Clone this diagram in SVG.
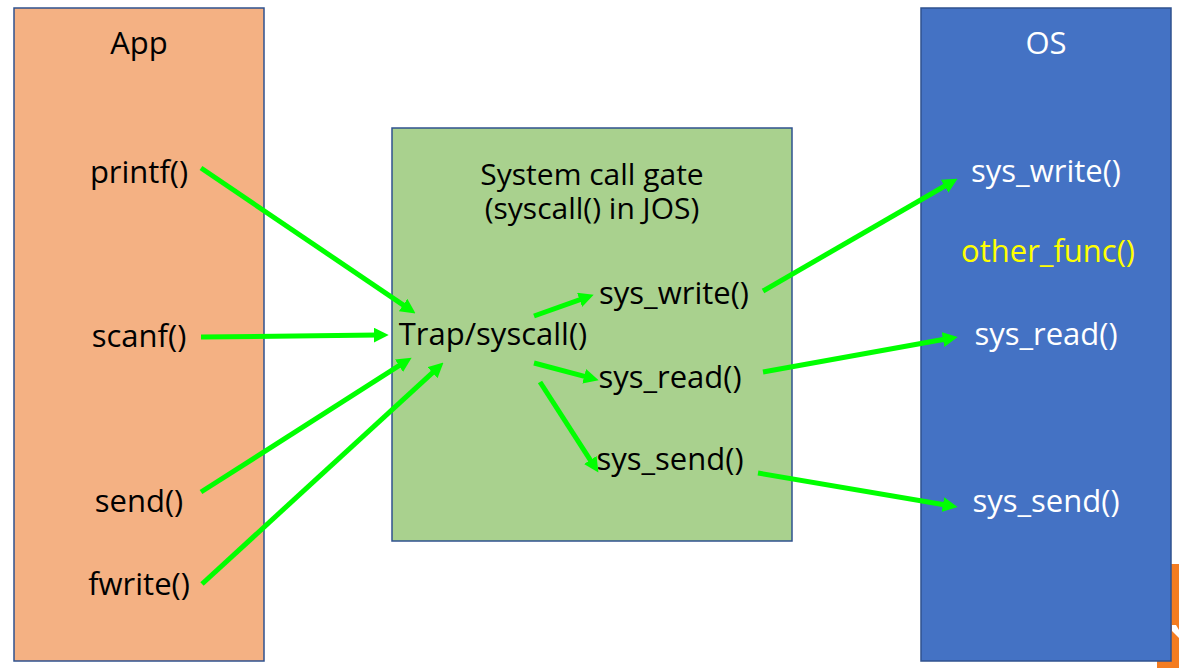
<svg xmlns="http://www.w3.org/2000/svg" width="1179" height="668" viewBox="0 0 1179 668">
<style>
.box{stroke:#2F528F;stroke-width:1.5}
.t{font-family:"Open Sans","Noto Sans",sans-serif;font-size:31px;text-anchor:middle}
.t2{font-size:30px}
.dark{fill:#000}
.light{fill:#fff}
.yel{fill:#FFFF00}
.arr{stroke:#00FF00;stroke-width:5;fill:none;marker-end:url(#ah)}
</style>
<defs>
<marker id="ah" markerUnits="userSpaceOnUse" markerWidth="15" markerHeight="15" refX="4" refY="7" orient="auto" viewBox="0 0 14 14">
<path d="M0,0 L14,7 L0,14 z" fill="#00FF00"/>
</marker>
</defs>
<rect x="0" y="0" width="1179" height="668" fill="#fff"/>
<g id="logo-fragment">
<rect x="1157" y="564" width="22" height="104" fill="#F47C20"/>
<polygon points="1172,625 1176,625 1179,630 1179,638 1172,631" fill="#fff"/>
</g>
<g id="app">
<rect class="box" x="14" y="8" width="250" height="653" fill="#F4B183"/>
<text class="t dark" x="139" y="54">App</text>
<text class="t dark" x="139" y="183">printf()</text>
<text class="t dark" x="139" y="347">scanf()</text>
<text class="t dark" x="139" y="512">send()</text>
<text class="t dark" x="139" y="595">fwrite()</text>
</g>
<g id="gate">
<rect class="box" x="392" y="128" width="400" height="413" fill="#A9D18E"/>
<text class="t t2 dark" x="592" y="185">System call gate</text>
<text class="t t2 dark" x="592" y="219">(syscall() in JOS)</text>
<text class="t dark" x="493" y="345">Trap/syscall()</text>
<text class="t dark" x="674" y="304">sys_write()</text>
<text class="t dark" x="670" y="388">sys_read()</text>
<text class="t dark" x="670" y="470">sys_send()</text>
</g>
<g id="os">
<rect class="box" x="921" y="8" width="250" height="653" fill="#4472C4"/>
<text class="t light" x="1046" y="54">OS</text>
<text class="t light" x="1046" y="182">sys_write()</text>
<text class="t yel" x="1048" y="262">other_func()</text>
<text class="t light" x="1046" y="345">sys_read()</text>
<text class="t light" x="1046" y="512">sys_send()</text>
</g>
<g id="connectors">
<line class="arr" x1="201" y1="168" x2="406.7" y2="307.4"/>
<line class="arr" x1="201" y1="337" x2="378" y2="335.1"/>
<line class="arr" x1="201" y1="492" x2="402.6" y2="363.4"/>
<line class="arr" x1="202" y1="584" x2="435.6" y2="369.8"/>
<line class="arr" x1="534" y1="316" x2="583.6" y2="298.4"/>
<line class="arr" x1="534" y1="363" x2="588.3" y2="377.4"/>
<line class="arr" x1="540" y1="382" x2="592.6" y2="463.6"/>
<line class="arr" x1="763" y1="291" x2="948.3" y2="184"/>
<line class="arr" x1="763" y1="372" x2="947.2" y2="338.8"/>
<line class="arr" x1="758" y1="473" x2="947.1" y2="505.3"/>
</g>
</svg>
